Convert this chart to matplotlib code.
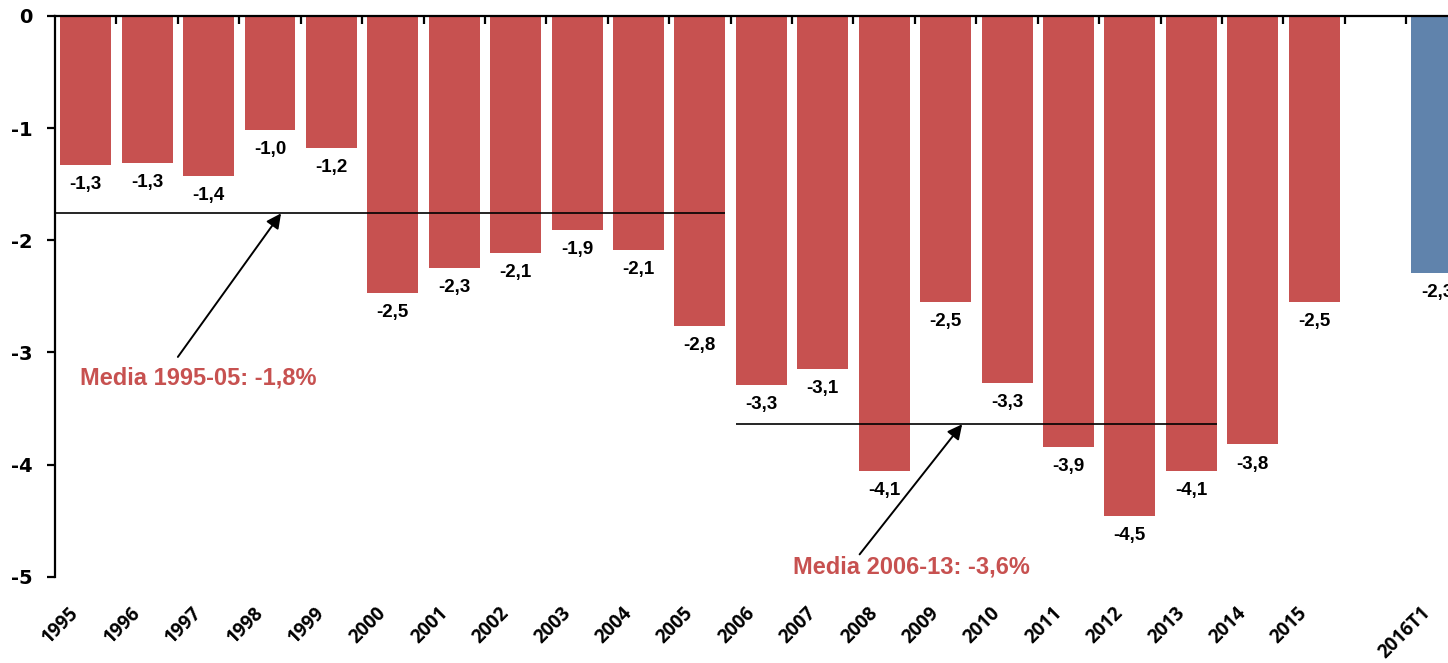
import numpy as np
import matplotlib.pyplot as plt
import matplotlib.transforms as mtransforms

# datos (saldo, % PIB)
anios = ["1995", "1996", "1997", "1998", "1999", "2000", "2001", "2002", "2003",
         "2004", "2005", "2006", "2007", "2008", "2009", "2010", "2011", "2012",
         "2013", "2014", "2015", "", "2016T1"]
valores = [-1.33, -1.31, -1.43, -1.02, -1.18, -2.47, -2.25, -2.11, -1.91,
           -2.09, -2.76, -3.29, -3.15, -4.06, -2.55, -3.27, -3.84, -4.46,
           -4.06, -3.82, -2.55, np.nan, -2.29]
etiquetas = ["-1,3", "-1,3", "-1,4", "-1,0", "-1,2", "-2,5", "-2,3", "-2,1", "-1,9",
             "-2,1", "-2,8", "-3,3", "-3,1", "-4,1", "-2,5", "-3,3", "-3,9", "-4,5",
             "-4,1", "-3,8", "-2,5", "", "-2,3"]
media1 = -1.76   # media 1995-05
media2 = -3.64   # media 2006-13
texto1 = "Media 1995-05: -1,8%"
texto2 = "Media 2006-13: -3,6%"

rojo = "#C75150"
azul = "#6083AC"

x = np.arange(len(anios))
colores = [azul if a == "2016T1" else rojo for a in anios]
ancho = 0.83

fig = plt.figure(figsize=(14.48, 6.63), dpi=100)
ax = fig.add_axes([0.038, 0.130, 0.962, 0.846])

ax.bar(x, valores, width=ancho, color=colores, zorder=2)

# etiquetas de valor
for xi, v, t in zip(x, valores, etiquetas):
    if t == "":
        continue
    ax.annotate(t, (xi, v), xytext=(0, -8), textcoords="offset points",
                ha="center", va="top", fontsize=13.5, fontweight="bold",
                family="Liberation Sans", color="black")

# lineas de media
i05 = anios.index("2005")
i06 = anios.index("2006")
i13 = anios.index("2013")
ax.hlines(media1, -0.5, i05 + ancho / 2, color="black", lw=1.2, zorder=3)
ax.hlines(media2, i06 - ancho / 2, i13 + ancho / 2, color="black", lw=1.2, zorder=3)

flecha = dict(arrowstyle="-|>", color="black", lw=1.4, mutation_scale=22,
              shrinkA=0, shrinkB=0)
ax.annotate("", xy=(3.18, media1), xytext=(1.5, -3.04), arrowprops=flecha, zorder=4)
ax.annotate("", xy=(14.27, media2), xytext=(12.6, -4.8), arrowprops=flecha, zorder=4)
ax.text(1.83, -3.23, texto1, ha="center", va="center", fontsize=17,
        fontweight="bold", family="Liberation Sans", color=rojo)
ax.text(13.45, -4.91, texto2, ha="center", va="center", fontsize=17,
        fontweight="bold", family="Liberation Sans", color=rojo)

ax.set_xlim(-0.5, 22.18)
ax.set_ylim(-5, 0)

# ejes
for s in ["right", "bottom"]:
    ax.spines[s].set_visible(False)
ax.spines["top"].set_linewidth(1.6)
ax.spines["left"].set_linewidth(1.6)

ax.set_yticks([0, -1, -2, -3, -4, -5])
ax.set_yticklabels(["0", "-1", "-2", "-3", "-4", "-5"])
ax.tick_params(axis="y", direction="out", length=6, width=1.6, pad=10,
               labelsize=14)
for lab in ax.get_yticklabels():
    lab.set_fontweight("bold")
    lab.set_family("DejaVu Sans")

# marcas entre categorias arriba, etiquetas abajo
ax.xaxis.set_ticks_position("top")
ax.set_xticks(np.arange(0.5, len(anios) - 1, 1.0))
ax.tick_params(axis="x", which="major", direction="in", length=6, width=1.6,
               labeltop=False, labelbottom=False)
ax.set_xticks(x, minor=True)
ax.set_xticklabels(anios, minor=True)
ax.tick_params(axis="x", which="minor", length=0, bottom=False, top=False,
               labelbottom=True, labeltop=False, pad=19, labelsize=13.5)
desp = mtransforms.ScaledTranslation(-12 / 72, 0, fig.dpi_scale_trans)
for lab in ax.get_xticklabels(minor=True):
    lab.set_rotation(45)
    lab.set_ha("right")
    lab.set_va("top")
    lab.set_rotation_mode("anchor")
    lab.set_fontweight("bold")
    lab.set_family("Open Sans")
    lab.set_transform(lab.get_transform() + desp)

fig.savefig("out.png", dpi=100)
